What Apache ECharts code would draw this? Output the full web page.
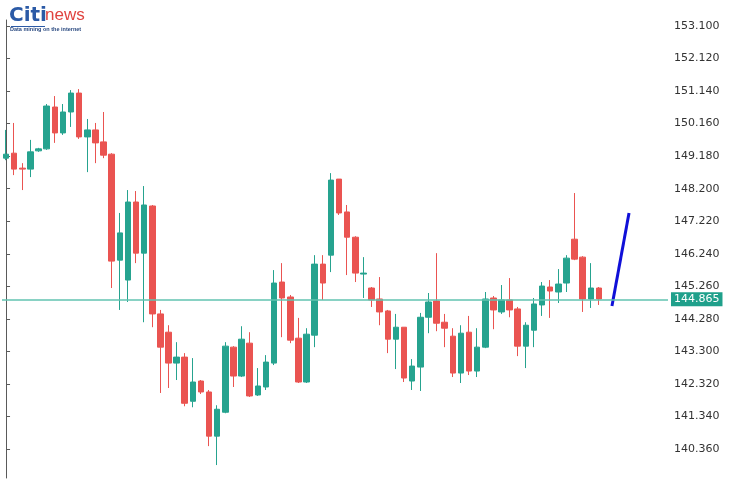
<!DOCTYPE html>
<html>
<head>
<meta charset="utf-8">
<script src="https://cdn.jsdelivr.net/npm/echarts@6/dist/echarts.min.js"></script>
<style>
html,body{margin:0;padding:0;background:#fff;}
#chart{width:735px;height:497px;}
</style>
</head>
<body>
<div id="chart"></div>
<script>
// ---- data ----
var opens = [149.12,149.27,148.82,148.79,149.34,149.40,150.66,149.88,150.51,151.08,149.76,149.97,149.61,149.24,146.05,145.45,147.80,146.26,147.68,144.43,143.88,142.95,143.13,141.80,142.41,142.08,140.75,141.47,143.43,142.56,143.55,141.99,142.23,142.95,145.39,144.94,143.70,142.38,143.79,145.93,146.20,148.49,147.50,146.74,145.63,145.21,144.88,144.52,143.67,144.03,142.41,142.83,144.33,144.82,144.18,143.76,142.65,143.88,142.71,143.43,144.91,144.49,144.85,144.58,143.46,143.94,144.70,145.24,145.09,145.36,146.68,146.14,144.88,145.21];
var closes = [149.24,148.79,148.79,149.31,149.40,150.69,149.88,150.51,151.08,149.76,149.97,149.58,149.21,146.02,146.87,147.80,146.26,147.71,144.43,143.43,142.95,143.13,141.74,142.38,142.08,140.75,141.56,143.46,142.56,143.67,141.96,142.26,142.98,145.36,144.91,143.64,142.38,143.82,145.93,145.36,148.46,147.47,146.74,145.66,145.66,144.85,144.49,143.67,144.03,142.50,142.86,144.33,144.79,144.15,144.00,142.65,143.85,142.71,143.43,144.88,144.55,144.85,144.55,143.46,144.09,144.73,145.27,145.12,145.33,146.11,146.08,144.88,145.21,144.88];
var lows = [149.06,148.61,148.16,148.55,149.31,149.37,149.58,149.82,150.06,149.70,148.70,148.97,149.12,145.21,144.55,144.79,145.96,144.18,144.03,142.05,142.20,142.44,141.65,141.62,142.02,140.45,139.88,141.44,142.23,142.53,141.93,141.96,142.14,142.89,143.73,143.55,142.35,142.35,143.43,144.85,145.69,147.41,145.60,145.39,144.91,144.64,144.09,143.25,142.77,142.38,142.14,142.11,143.85,143.91,143.43,142.53,142.35,142.59,142.53,143.40,143.97,144.43,144.33,143.16,142.80,143.43,144.37,144.31,144.76,145.09,146.05,144.49,144.61,144.70];
var highs = [149.97,150.18,148.97,149.67,149.43,150.75,150.99,150.75,151.17,151.20,150.30,150.18,150.51,149.27,147.47,148.16,148.13,148.28,147.71,144.55,144.09,143.58,143.25,143.10,142.44,142.14,141.68,143.58,143.46,144.06,143.88,142.80,143.19,145.75,145.96,145.00,144.31,144.00,146.20,146.20,148.67,148.49,147.71,146.77,146.14,145.24,145.54,144.55,144.43,144.03,143.07,144.46,145.06,146.26,144.43,144.00,144.09,144.37,144.00,145.09,144.97,145.30,145.51,144.64,144.18,144.91,145.39,145.45,145.78,146.20,148.07,146.17,145.96,145.24];
var slotCount = 82; // candle slots on the time axis, incl. empty space on the right
var yTicks = [140.36,141.34,142.32,143.30,144.28,145.26,146.24,147.22,148.20,149.18,150.16,151.14,152.12,153.10];
var currentPrice = 144.865;
var projX = [74.6, 76.7];
var projY = [144.67, 147.47];

// ---- build ----
var categories = [];
for (var i = 0; i < slotCount; i++) categories.push(String(i + 1));
var candleData = opens.map(function (o, i) { return [o, closes[i], lows[i], highs[i]]; });
var projData = projX.map(function (x, i) { return [x, projY[i]]; });

var chart = echarts.init(document.getElementById('chart'), null, {renderer: 'canvas'});
chart.setOption({
  animation: false,
  backgroundColor: '#ffffff',
  grid: {left: 2, right: 67, top: 20, bottom: 19, containLabel: false},
  xAxis: [
    {type: 'category', data: categories, boundaryGap: true, show: false},
    {type: 'value', min: -0.5, max: slotCount - 0.5, show: false}
  ],
  yAxis: {
    type: 'value', position: 'right', min: 139.49, max: 153.28, scale: true,
    axisLine: {show: true, lineStyle: {color: '#5a5a5a', width: 1}},
    axisTick: {show: true, length: 4, customValues: yTicks, lineStyle: {color: '#5a5a5a'}},
    axisLabel: {show: true, customValues: yTicks, margin: 6, color: '#333333',
      fontFamily: 'DejaVu Sans', fontSize: 11,
      formatter: function (v) { return Number(v).toFixed(3); }},
    splitLine: {show: false}
  },
  series: [
    {
      type: 'candlestick', xAxisIndex: 0, data: candleData, barWidth: 6,
      itemStyle: {color: '#26a38f', color0: '#ea5451', borderColor: '#26a38f', borderColor0: '#ea5451', borderWidth: 1},
      markLine: {
        silent: true, symbol: ['none', 'none'],
        lineStyle: {color: '#62c3b1', width: 1.6, type: 'solid'},
        label: {show: true, position: 'end', distance: 3, formatter: currentPrice.toFixed(3),
          backgroundColor: '#1fa08b', color: '#ffffff', fontFamily: 'DejaVu Sans', fontSize: 11, padding: [2, 3, 1, 3]},
        data: [{yAxis: currentPrice}]
      }
    },
    {
      type: 'line', xAxisIndex: 1, data: projData, symbol: 'none',
      lineStyle: {color: '#1010d8', width: 3}
    }
  ],
  graphic: [
    {type: 'text', left: 9, top: 6, style: {text: 'Citi', font: 'bold 20px "DejaVu Sans"', fill: '#2b5aa6'}},
    {type: 'text', left: 45, top: 7, style: {text: 'news', font: '17px "Liberation Sans"', fill: '#e0433f'}},
    {type: 'rect', shape: {x: 11, y: 26, width: 34, height: 1}, style: {fill: '#2b5aa6'}},
    {type: 'text', left: 10, top: 26, style: {text: 'Data mining on the internet', font: 'bold 5.5px "Liberation Sans"', fill: '#2b4a80'}}
  ]
});
</script>
</body>
</html>
